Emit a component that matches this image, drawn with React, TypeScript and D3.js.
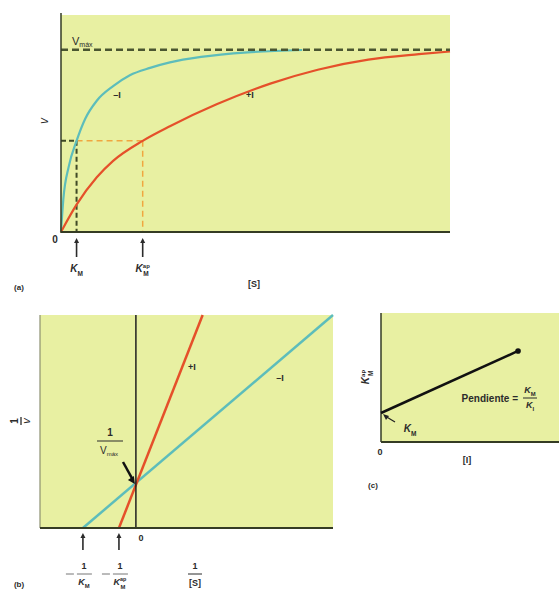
import React, { useRef, useEffect } from 'react';
import * as d3 from 'd3';

// (a) velocity vs substrate, v as a fraction of Vmax
const sNoInhib = [0, 0.6, 2, 4, 6.2, 9.2, 13.4, 17.7, 22.9, 28, 36, 48, 62];
const vNoInhib = [0, 0.18, 0.36, 0.5, 0.62, 0.72, 0.8, 0.86, 0.9, 0.93, 0.96, 0.985, 0.998];
const sInhib = [0, 4, 9.2, 13.4, 21, 28, 40, 54, 66, 79, 92, 100];
const vInhib = [0, 0.15, 0.3, 0.39, 0.5, 0.58, 0.7, 0.815, 0.89, 0.945, 0.975, 0.99];
const kmValue = 4;
const kmAppValue = 21;
const vmaxValue = 1;

// (b) double reciprocal lines (1/[S], 1/v)
const lbNoInhibX = [-1, 3.72];
const lbNoInhibY = [0, 4.95];
const lbInhibX = [-0.32, 1.26];
const lbInhibY = [0, 4.95];

// (c) apparent Km vs [I]
const inhibConc = [0, 0.77];
const kmAppVals = [1, 3.14];

const FILL = '#e8f0a2';
const BLUE = '#5dbdbb';
const RED = '#e5502a';
const AXIS = '#353c24';
const TXT = '#2b2b2b';
const FONT = '"Liberation Sans", Arial, sans-serif';

const App: React.FC = () => {
  const svgRef = useRef<SVGSVGElement>(null);

  useEffect(() => {
    if (!svgRef.current) return;
    const svg = d3.select(svgRef.current);
    svg.selectAll('*').remove();
    svg.attr('font-family', FONT);

    const arrow = (g: any, x: number, y1: number, y2: number, w = 1.6) => {
      g.append('line').attr('x1', x).attr('x2', x).attr('y1', y1).attr('y2', y2 + 4)
        .attr('stroke', TXT).attr('stroke-width', w);
      g.append('path').attr('d', `M${x - 2.5},${y2 + 5}L${x},${y2}L${x + 2.5},${y2 + 5}Z`).attr('fill', TXT);
    };

    const kLabel = (g: any, x: number, y: number, sub: string, sup?: string, size = 10) => {
      const t = g.append('text').attr('x', x).attr('y', y).attr('text-anchor', 'middle')
        .attr('font-size', size).attr('font-style', 'italic').attr('font-weight', 'bold').attr('fill', TXT);
      t.append('tspan').text('K');
      if (sup) {
        t.append('tspan').attr('font-size', size * 0.6).attr('dy', -size * 0.45).attr('font-style', 'normal').text(sup);
        t.append('tspan').attr('font-size', size * 0.65).attr('dx', -size * 0.65).attr('dy', size * 0.85).attr('font-style', 'normal').text(sub);
      } else {
        t.append('tspan').attr('font-size', size * 0.65).attr('dy', size * 0.35).attr('font-style', 'normal').text(sub);
      }
      return t;
    };

    // ---------- (a) ----------
    const xA = d3.scaleLinear().domain([0, 100]).range([61, 450]);
    const yA = d3.scaleLinear().domain([0, 1.19]).range([232, 15]);
    const ga = svg.append('g');
    ga.append('rect').attr('x', xA(0)).attr('y', yA(1.19)).attr('width', xA(100) - xA(0))
      .attr('height', yA(0) - yA(1.19)).attr('fill', FILL);

    // half-max guides
    ga.append('line').attr('x1', xA(kmValue)).attr('x2', xA(kmAppValue)).attr('y1', yA(0.5)).attr('y2', yA(0.5))
      .attr('stroke', '#f0a640').attr('stroke-width', 1.5).attr('stroke-dasharray', '6,4');
    ga.append('line').attr('x1', xA(kmAppValue)).attr('x2', xA(kmAppValue)).attr('y1', yA(0.5)).attr('y2', yA(0))
      .attr('stroke', '#f0a640').attr('stroke-width', 1.5).attr('stroke-dasharray', '6,4');
    ga.append('line').attr('x1', xA(0)).attr('x2', xA(kmValue)).attr('y1', yA(0.5)).attr('y2', yA(0.5))
      .attr('stroke', '#3f4a26').attr('stroke-width', 2).attr('stroke-dasharray', '5,3');
    ga.append('line').attr('x1', xA(kmValue)).attr('x2', xA(kmValue)).attr('y1', yA(0.5)).attr('y2', yA(0))
      .attr('stroke', '#3f4a26').attr('stroke-width', 2).attr('stroke-dasharray', '5,3');

    const lineA = d3.line<[number, number]>().x((d) => xA(d[0])).y((d) => yA(d[1])).curve(d3.curveMonotoneX);
    ga.append('path').attr('d', lineA(sNoInhib.map((s, i) => [s, vNoInhib[i]]))!)
      .attr('fill', 'none').attr('stroke', BLUE).attr('stroke-width', 2.2);
    ga.append('path').attr('d', lineA(sInhib.map((s, i) => [s, vInhib[i]]))!)
      .attr('fill', 'none').attr('stroke', RED).attr('stroke-width', 2.2);

    // Vmax dashed
    ga.append('line').attr('x1', xA(0)).attr('x2', xA(100)).attr('y1', yA(vmaxValue)).attr('y2', yA(vmaxValue))
      .attr('stroke', '#4a5630').attr('stroke-width', 2.5).attr('stroke-dasharray', '7,4');

    // axes
    ga.append('line').attr('x1', xA(0)).attr('x2', xA(0)).attr('y1', 13).attr('y2', yA(0) + 1)
      .attr('stroke', AXIS).attr('stroke-width', 1.5);
    ga.append('line').attr('x1', xA(0)).attr('x2', xA(100)).attr('y1', yA(0)).attr('y2', yA(0))
      .attr('stroke', AXIS).attr('stroke-width', 2);

    const vmaxT = ga.append('text').attr('x', 72).attr('y', 45).attr('font-size', 11).attr('fill', TXT);
    vmaxT.append('tspan').text('V');
    vmaxT.append('tspan').attr('font-size', 7).attr('dy', 2).text('máx');

    ga.append('text').attr('x', 117).attr('y', 98).attr('text-anchor', 'middle').attr('font-size', 9)
      .attr('font-weight', 'bold').attr('fill', TXT).text('–I');
    ga.append('text').attr('x', 250).attr('y', 98).attr('text-anchor', 'middle').attr('font-size', 9)
      .attr('font-weight', 'bold').attr('fill', TXT).text('+I');

    ga.append('text').attr('transform', 'translate(48,121) rotate(-90)').attr('text-anchor', 'middle')
      .attr('font-size', 12).attr('font-style', 'italic').attr('fill', TXT).text('v');
    ga.append('text').attr('x', 55).attr('y', 243).attr('text-anchor', 'middle').attr('font-size', 10)
      .attr('font-weight', 'bold').attr('fill', TXT).text('0');
    arrow(ga, xA(kmValue), 257, 238);
    arrow(ga, xA(kmAppValue), 257, 238);
    kLabel(ga, xA(kmValue), 272, 'M');
    kLabel(ga, xA(kmAppValue), 272, 'M', 'ap');
    ga.append('text').attr('x', 254).attr('y', 287).attr('text-anchor', 'middle').attr('font-size', 9)
      .attr('font-weight', 'bold').attr('fill', TXT).text('[S]');
    ga.append('text').attr('x', 19).attr('y', 290).attr('text-anchor', 'middle').attr('font-size', 8)
      .attr('font-weight', 'bold').attr('fill', TXT).text('(a)');

    // ---------- (b) ----------
    const xB = d3.scaleLinear().domain([-1.81, 3.72]).range([40, 333]);
    const yB = d3.scaleLinear().domain([0, 4.95]).range([528, 315]);
    const gb = svg.append('g');
    gb.append('rect').attr('x', xB(-1.81)).attr('y', yB(4.95)).attr('width', xB(3.72) - xB(-1.81))
      .attr('height', yB(0) - yB(4.95)).attr('fill', FILL);
    gb.append('line').attr('x1', xB(-1.81)).attr('x2', xB(-1.81)).attr('y1', yB(4.95)).attr('y2', yB(0))
      .attr('stroke', '#8c9070').attr('stroke-width', 1.2);
    const lineB = d3.line<[number, number]>().x((d) => xB(d[0])).y((d) => yB(d[1]));
    gb.append('path').attr('d', lineB(lbNoInhibX.map((x, i) => [x, lbNoInhibY[i]]))!)
      .attr('fill', 'none').attr('stroke', BLUE).attr('stroke-width', 2.5);
    gb.append('path').attr('d', lineB(lbInhibX.map((x, i) => [x, lbInhibY[i]]))!)
      .attr('fill', 'none').attr('stroke', RED).attr('stroke-width', 2.5);
    gb.append('line').attr('x1', xB(0)).attr('x2', xB(0)).attr('y1', yB(4.95)).attr('y2', yB(0))
      .attr('stroke', '#1f1f1f').attr('stroke-width', 1.5);
    gb.append('line').attr('x1', xB(-1.81)).attr('x2', xB(3.72)).attr('y1', yB(0)).attr('y2', yB(0))
      .attr('stroke', AXIS).attr('stroke-width', 2);

    gb.append('text').attr('x', 192).attr('y', 370).attr('text-anchor', 'middle').attr('font-size', 9)
      .attr('font-weight', 'bold').attr('fill', TXT).text('+I');
    gb.append('text').attr('x', 280).attr('y', 381).attr('text-anchor', 'middle').attr('font-size', 9)
      .attr('font-weight', 'bold').attr('fill', TXT).text('–I');

    // 1/Vmax annotation
    gb.append('text').attr('x', 110).attr('y', 436).attr('text-anchor', 'middle').attr('font-size', 10)
      .attr('font-weight', 'bold').attr('fill', TXT).text('1');
    gb.append('line').attr('x1', 97).attr('x2', 123).attr('y1', 441).attr('y2', 441).attr('stroke', TXT).attr('stroke-width', 1);
    const vm = gb.append('text').attr('x', 109).attr('y', 454).attr('text-anchor', 'middle').attr('font-size', 10)
      .attr('fill', TXT);
    vm.append('tspan').text('V');
    vm.append('tspan').attr('font-size', 6).attr('dy', 2).text('máx');
    gb.append('line').attr('x1', 123).attr('y1', 462).attr('x2', xB(0) - 3).attr('y2', yB(1) - 5)
      .attr('stroke', '#111').attr('stroke-width', 2.5);
    gb.append('path').attr('d', `M${xB(0) - 8},${yB(1) - 5}L${xB(0) - 1},${yB(1) - 1}L${xB(0) - 2},${yB(1) - 9}Z`).attr('fill', '#111');

    // rotated 1/v
    const yl = gb.append('g').attr('transform', 'translate(21,421) rotate(-90)');
    yl.append('text').attr('x', 0).attr('y', -3).attr('text-anchor', 'middle').attr('font-size', 10)
      .attr('font-weight', 'bold').attr('fill', TXT).text('1');
    yl.append('line').attr('x1', -4).attr('x2', 4).attr('y1', 0).attr('y2', 0).attr('stroke', TXT).attr('stroke-width', 1.3);
    yl.append('text').attr('x', 0).attr('y', 9).attr('text-anchor', 'middle').attr('font-size', 11)
      .attr('font-style', 'italic').attr('fill', TXT).text('v');

    gb.append('text').attr('x', xB(0) + 5).attr('y', 541).attr('text-anchor', 'middle').attr('font-size', 9)
      .attr('font-weight', 'bold').attr('fill', TXT).text('0');
    arrow(gb, xB(-1), 550, 533);
    arrow(gb, xB(-0.32), 550, 533);

    const negFrac = (cx: number, sup?: string) => {
      gb.append('text').attr('x', cx).attr('y', 569).attr('text-anchor', 'middle').attr('font-size', 9)
        .attr('font-weight', 'bold').attr('fill', TXT).text('1');
      gb.append('line').attr('x1', cx - 18).attr('x2', cx - 10).attr('y1', 574).attr('y2', 574)
        .attr('stroke', '#777').attr('stroke-width', 1);
      gb.append('line').attr('x1', cx - 7).attr('x2', cx + 8).attr('y1', 574).attr('y2', 574)
        .attr('stroke', '#777').attr('stroke-width', 1);
      kLabel(gb, cx, 585, 'M', sup, 9);
    };
    negFrac(xB(-1) + 1);
    negFrac(xB(-0.32) + 1, 'ap');

    gb.append('text').attr('x', 195).attr('y', 569).attr('text-anchor', 'middle').attr('font-size', 9)
      .attr('font-weight', 'bold').attr('fill', TXT).text('1');
    gb.append('line').attr('x1', 188).attr('x2', 202).attr('y1', 574).attr('y2', 574).attr('stroke', TXT).attr('stroke-width', 1);
    gb.append('text').attr('x', 195).attr('y', 586).attr('text-anchor', 'middle').attr('font-size', 9)
      .attr('font-weight', 'bold').attr('fill', TXT).text('[S]');
    gb.append('text').attr('x', 19).attr('y', 587).attr('text-anchor', 'middle').attr('font-size', 8)
      .attr('font-weight', 'bold').attr('fill', TXT).text('(b)');

    // ---------- (c) ----------
    const xC = d3.scaleLinear().domain([0, 1]).range([381, 559]);
    const yC = d3.scaleLinear().domain([0, 4.45]).range([442, 313]);
    const gc = svg.append('g');
    gc.append('rect').attr('x', xC(0)).attr('y', yC(4.45)).attr('width', xC(1) - xC(0))
      .attr('height', yC(0) - yC(4.45)).attr('fill', FILL);
    gc.append('line').attr('x1', xC(0)).attr('x2', xC(0)).attr('y1', yC(4.45)).attr('y2', yC(0))
      .attr('stroke', AXIS).attr('stroke-width', 1.5);
    gc.append('line').attr('x1', xC(0)).attr('x2', xC(1)).attr('y1', yC(0)).attr('y2', yC(0))
      .attr('stroke', AXIS).attr('stroke-width', 2);
    const lineC = d3.line<[number, number]>().x((d) => xC(d[0])).y((d) => yC(d[1]));
    gc.append('path').attr('d', lineC(inhibConc.map((c, i) => [c, kmAppVals[i]]))!)
      .attr('fill', 'none').attr('stroke', '#111').attr('stroke-width', 2.5);
    gc.append('circle').attr('cx', xC(inhibConc[1])).attr('cy', yC(kmAppVals[1])).attr('r', 2.8).attr('fill', '#111');

    // intercept pointer
    gc.append('line').attr('x1', xC(0) + 14).attr('y1', yC(1) + 9).attr('x2', xC(0) + 4).attr('y2', yC(1) + 3)
      .attr('stroke', '#222').attr('stroke-width', 1.2);
    gc.append('path').attr('d', `M${xC(0) + 2},${yC(1) + 1}L${xC(0) + 8},${yC(1) + 3}L${xC(0) + 5},${yC(1) + 7}Z`).attr('fill', '#222');
    kLabel(gc, 410, 432, 'M', undefined, 10);

    const pt = gc.append('text').attr('x', 518).attr('y', 402).attr('text-anchor', 'end').attr('font-size', 10)
      .attr('font-weight', 'bold').attr('fill', TXT);
    pt.text('Pendiente =');
    kLabel(gc, 530, 393, 'M', undefined, 9);
    gc.append('line').attr('x1', 523).attr('x2', 537).attr('y1', 398).attr('y2', 398).attr('stroke', TXT).attr('stroke-width', 1);
    kLabel(gc, 530, 408, 'I', undefined, 9);

    const kyl = gc.append('text').attr('transform', 'translate(369,377) rotate(-90)').attr('text-anchor', 'middle')
      .attr('font-size', 10).attr('font-style', 'italic').attr('font-weight', 'bold').attr('fill', TXT);
    kyl.append('tspan').text('K');
    kyl.append('tspan').attr('font-size', 6).attr('dy', -4).attr('font-style', 'normal').text('ap');
    kyl.append('tspan').attr('font-size', 6.5).attr('dx', -6).attr('dy', 8).attr('font-style', 'normal').text('M');

    gc.append('text').attr('x', 380).attr('y', 455).attr('text-anchor', 'middle').attr('font-size', 9)
      .attr('font-weight', 'bold').attr('fill', TXT).text('0');
    gc.append('text').attr('x', 467).attr('y', 463).attr('text-anchor', 'middle').attr('font-size', 9)
      .attr('font-weight', 'bold').attr('fill', TXT).text('[I]');
    gc.append('text').attr('x', 373).attr('y', 488).attr('text-anchor', 'middle').attr('font-size', 8)
      .attr('font-weight', 'bold').attr('fill', TXT).text('(c)');
  }, []);

  return (
    <div style={{ position: 'absolute', left: 0, top: 0, background: '#fff' }}>
      <svg ref={svgRef} width={559} height={598} style={{ display: 'block' }} />
    </div>
  );
};

export default App;
